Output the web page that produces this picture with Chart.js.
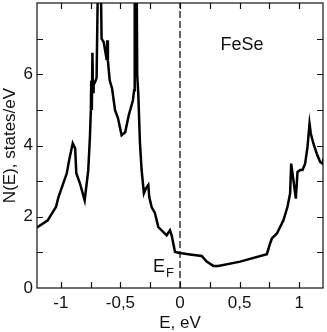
<!DOCTYPE html>
<html>
<head>
<meta charset="utf-8">
<script src="https://cdn.jsdelivr.net/npm/chart.js@4.4.1/dist/chart.umd.min.js"></script>
<style>
  html, body { margin: 0; padding: 0; background: #fff; }
  #wrap { width: 327px; height: 332px; }
</style>
</head>
<body>
<div id="wrap"><canvas id="chart"></canvas></div>
<script>
// DOS of FeSe
const energy = [-1.20, -1.11, -1.04, -1.02, -1.00, -0.95, -0.93, -0.90, -0.88, -0.87, -0.84, -0.80,
  -0.77, -0.756, -0.748, -0.745, -0.740, -0.735, -0.730, -0.725, -0.71, -0.70, -0.685, -0.668,
  -0.658, -0.64, -0.625, -0.615, -0.610, -0.605, -0.59, -0.57, -0.545, -0.52, -0.49, -0.46,
  -0.43, -0.395, -0.385, -0.38, -0.365, -0.359, -0.350, -0.336, -0.322, -0.303, -0.286, -0.266,
  -0.258, -0.238, -0.210, -0.182, -0.154, -0.112, -0.084, -0.070, -0.042, 0, 0.084, 0.182,
  0.224, 0.28, 0.322, 0.504, 0.729, 0.756, 0.771, 0.813, 0.868, 0.902, 0.924, 0.933,
  0.952, 0.972, 0.986, 1.008, 1.028, 1.05, 1.07, 1.087, 1.098, 1.12, 1.148, 1.176, 1.196, 1.204];
const dos = [1.70, 1.90, 2.28, 2.55, 2.74, 3.22, 3.59, 4.06, 3.92, 3.22, 2.94, 2.46,
  3.30, 4.23, 5.0, 5.82, 5.0, 6.6, 5.5, 5.7, 5.8, 5.9, 9.5, 9.5,
  7.0, 6.9, 6.6, 6.4, 6.95, 6.39, 5.83, 5.6, 4.99, 4.76, 4.29, 4.37,
  4.85, 5.27, 5.55, 9.5, 9.5, 5.97, 5.45, 4.06, 3.31, 2.66, 2.80, 2.89,
  2.55, 2.27, 2.10, 1.71, 1.62, 1.48, 1.62, 1.48, 1.01, 0.98, 0.94, 0.90,
  0.74, 0.62, 0.62, 0.74, 0.95, 1.25, 1.39, 1.53, 1.90, 2.28, 2.65, 3.49,
  3.02, 2.51, 3.26, 3.31, 3.31, 3.49, 3.96, 4.61, 4.33, 4.05, 3.77, 3.54, 3.49, 3.63];

const fermiX = [0, 0];
const fermiY = [0, 8];

const xTicks = [-1, -0.5, 0, 0.5, 1];
const xTickLabels = ['-1', '-0,5', '0', '0,5', '1'];
const xMinor = [-1, -0.75, -0.5, -0.25, 0, 0.25, 0.5, 0.75, 1];
const yTicks = [0, 2, 4, 6];
const yTickLabels = ['0', '2', '4', '6'];
const yMinor = [1, 2, 3, 4, 5, 6, 7];

const FONT = "'Liberation Sans', Arial, sans-serif";

// frame, inward ticks and the labels inside the plot
const framePlugin = {
  id: 'frame',
  afterDraw(chart) {
    const { ctx, chartArea: a, scales } = chart;
    const xs = scales.x, ys = scales.y;
    ctx.save();
    ctx.strokeStyle = '#111';
    ctx.lineWidth = 1.2;
    ctx.strokeRect(a.left, a.top, a.right - a.left, a.bottom - a.top);
    const len = 6;
    ctx.beginPath();
    xMinor.forEach(v => {
      const px = Math.round(xs.getPixelForValue(v)) + 0.5;
      ctx.moveTo(px, a.bottom); ctx.lineTo(px, a.bottom - len);
      ctx.moveTo(px, a.top); ctx.lineTo(px, a.top + len);
    });
    yMinor.forEach(v => {
      const py = Math.round(ys.getPixelForValue(v)) + 0.5;
      ctx.moveTo(a.left, py); ctx.lineTo(a.left + len, py);
      ctx.moveTo(a.right, py); ctx.lineTo(a.right - len, py);
    });
    ctx.stroke();

    ctx.fillStyle = '#111';
    ctx.textBaseline = 'alphabetic';
    ctx.textAlign = 'center';
    ctx.font = '18px ' + FONT;
    ctx.fillText('FeSe', xs.getPixelForValue(0.52), ys.getPixelForValue(6.67));
    ctx.textAlign = 'left';
    const ex = xs.getPixelForValue(-0.227), ey = ys.getPixelForValue(0.45);
    ctx.font = '18px ' + FONT;
    ctx.fillText('E', ex, ey);
    ctx.font = '13px ' + FONT;
    ctx.fillText('F', ex + 13, ey + 5);
    ctx.restore();
  }
};

function noPad(s) {
  s.paddingTop = 0;
  s.paddingBottom = 0;
  s.paddingLeft = 0;
  s.paddingRight = 0;
}

const ctx = document.getElementById('chart').getContext('2d');
const chart = new Chart(ctx, {
  type: 'scatter',
  data: {
    datasets: [{
      data: energy.map((e, i) => ({ x: e, y: dos[i] })),
      showLine: true,
      borderColor: '#000',
      borderWidth: 2.5,
      pointRadius: 0,
      tension: 0
    }, {
      data: fermiX.map((e, i) => ({ x: e, y: fermiY[i] })),
      showLine: true,
      borderColor: '#333',
      borderWidth: 1.5,
      borderDash: [7, 3],
      pointRadius: 0
    }]
  },
  options: {
    responsive: true,
    maintainAspectRatio: false,
    animation: false,
    layout: { padding: { top: 3, right: 4, left: 0, bottom: 0 } },
    plugins: { legend: { display: false }, tooltip: { enabled: false } },
    scales: {
      x: {
        type: 'linear',
        min: -1.2,
        max: 1.2,
        afterBuildTicks: s => { s.ticks = xTicks.map(v => ({ value: v })); },
        afterFit: s => { s.height = 44; noPad(s); },
        grid: { display: false, drawTicks: false },
        border: { display: false },
        ticks: {
          padding: 5,
          color: '#111',
          font: { family: FONT, size: 17 },
          maxRotation: 0,
          callback: v => xTickLabels[xTicks.indexOf(v)]
        },
        title: {
          display: true,
          text: 'E, eV',
          color: '#111',
          font: { family: FONT, size: 17 },
          padding: { top: 0, bottom: -2 }
        }
      },
      y: {
        min: 0,
        max: 8,
        afterBuildTicks: s => { s.ticks = yTicks.map(v => ({ value: v })); },
        afterFit: s => { s.width = 37; noPad(s); },
        grid: { display: false, drawTicks: false },
        border: { display: false },
        ticks: {
          padding: 4,
          color: '#111',
          font: { family: FONT, size: 17 },
          callback: v => yTickLabels[yTicks.indexOf(v)]
        },
        title: {
          display: true,
          text: 'N(E), states/eV',
          color: '#111',
          font: { family: FONT, size: 17 },
          padding: 0
        }
      }
    }
  },
  plugins: [framePlugin]
});
</script>
</body>
</html>
